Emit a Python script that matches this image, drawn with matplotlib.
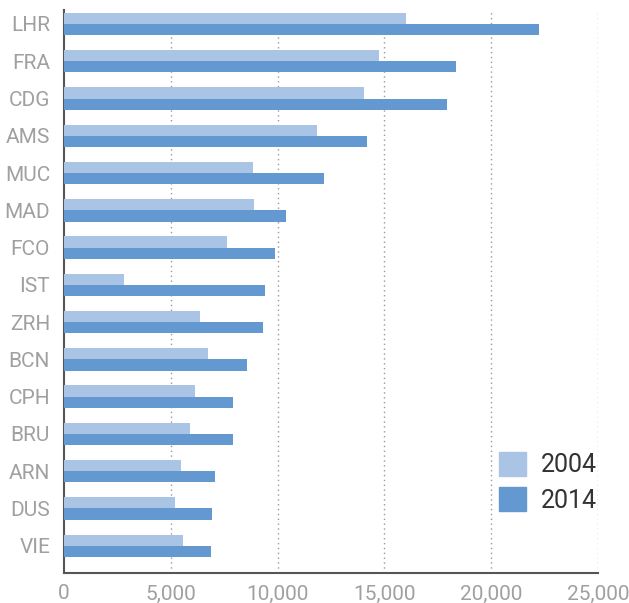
import matplotlib.pyplot as plt
import numpy as np
from matplotlib.patches import Patch

airports = ['LHR', 'FRA', 'CDG', 'AMS', 'MUC', 'MAD', 'FCO', 'IST',
            'ZRH', 'BCN', 'CPH', 'BRU', 'ARN', 'DUS', 'VIE']
y2004 = [16000, 14750, 14050, 11850, 8850, 8900, 7650, 2800,
         6350, 6750, 6150, 5900, 5500, 5200, 5550]
y2014 = [22250, 18350, 17950, 14200, 12150, 10400, 9900, 9400,
         9300, 8550, 7900, 7900, 7050, 6950, 6900]
xticks = [0, 5000, 10000, 15000, 20000, 25000]

c_light = '#a9c4e4'
c_dark = '#6399d0'
grey = '#a0a0a0'

plt.rcParams['font.family'] = ['Roboto', 'DejaVu Sans']

fig = plt.figure(figsize=(6.29, 6.03), dpi=100)
ax = fig.add_axes([0.1017, 0.0492, 0.849, 0.9342])

pos = np.arange(len(airports))
h = 0.3
ax.barh(pos - h / 2, y2004, height=h, color=c_light, zorder=3)
ax.barh(pos + h / 2, y2014, height=h, color=c_dark, zorder=3)

ax.set_ylim(14.74, -0.375)
ax.set_xlim(0, 25000)
ax.set_yticks(pos)
ax.set_yticklabels(airports)
ax.set_xticks(xticks)
ax.set_xticklabels([f'{v:,}' for v in xticks])
ax.tick_params(length=0, labelsize=15, labelcolor=grey)
ax.tick_params(axis='y', pad=10)
ax.tick_params(axis='x', pad=8)

for v in xticks[1:]:
    ax.axvline(v, color='#999999', lw=1, ls=(0, (1, 2.5)), zorder=1)

for s in ['top', 'right']:
    ax.spines[s].set_visible(False)
for s in ['left', 'bottom']:
    ax.spines[s].set_color('#555555')
    ax.spines[s].set_linewidth(1.5)

handles = [Patch(color=c_light, label='2004'), Patch(color=c_dark, label='2014')]
ax.legend(handles=handles, loc='lower right', bbox_to_anchor=(1.022, 0.085),
          frameon=False, fontsize=18, labelcolor='#333333',
          handlelength=1.1, handleheight=1.1, labelspacing=0.4,
          handletextpad=0.6, borderpad=0)

fig.savefig('out.png', dpi=100)
